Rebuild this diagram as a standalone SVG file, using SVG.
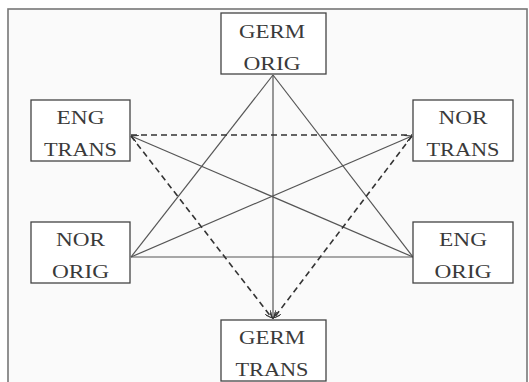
<svg xmlns="http://www.w3.org/2000/svg" width="529" height="382" viewBox="0 0 529 382">
  <style>
    .box { fill: #ffffff; stroke: #444; stroke-width: 1.3; }
    .lbl { font-size: 18px; fill: #3a3a3a; text-anchor: middle; }
    .solid { stroke: #555; stroke-width: 1.2; fill: none; }
    .dash { stroke: #333; stroke-width: 1.6; stroke-dasharray: 6 4; fill: none; }
  </style>
  <defs>
    <marker id="arr" viewBox="0 0 10 10" refX="10" refY="5" markerWidth="7" markerHeight="7" orient="auto" markerUnits="userSpaceOnUse">
      <path d="M0,0 L10,5 L0,10" fill="none" stroke="#333" stroke-width="1.6"/>
    </marker>
  </defs>

  <rect x="0" y="0" width="529" height="382" fill="#ffffff"/>
  <rect x="8" y="9" width="519" height="390" fill="#fafafa" stroke="#777" stroke-width="1.6"/>

  <g id="connectors">
    <line class="solid" x1="273" y1="75" x2="131" y2="257"/>
    <line class="solid" x1="273" y1="75" x2="413" y2="257"/>
    <line class="solid" x1="273" y1="75" x2="273" y2="319" marker-end="url(#arr)"/>
    <line class="solid" x1="131" y1="257" x2="413" y2="257"/>
    <line class="solid" x1="413" y1="257" x2="131" y2="136" marker-end="url(#arr)"/>
    <line class="solid" x1="131" y1="257" x2="412" y2="136" marker-end="url(#arr)"/>
    <line class="dash" x1="131" y1="135" x2="412" y2="135"/>
    <line class="dash" x1="131" y1="136" x2="272" y2="318" marker-end="url(#arr)"/>
    <line class="dash" x1="412" y1="136" x2="274" y2="318" marker-end="url(#arr)"/>
  </g>

  <g font-family="Liberation Serif, Times New Roman, Noto Serif, serif">
    <g id="germ-orig">
      <rect class="box" x="221" y="13" width="105" height="61"/>
      <text class="lbl" x="272" y="38" textLength="66" lengthAdjust="spacingAndGlyphs">GERM</text>
      <text class="lbl" x="272" y="70" textLength="57" lengthAdjust="spacingAndGlyphs">ORIG</text>
    </g>
    <g id="eng-trans">
      <rect class="box" x="31" y="100" width="99" height="61"/>
      <text class="lbl" x="80.5" y="124" textLength="48" lengthAdjust="spacingAndGlyphs">ENG</text>
      <text class="lbl" x="80.5" y="156" textLength="73" lengthAdjust="spacingAndGlyphs">TRANS</text>
    </g>
    <g id="nor-trans">
      <rect class="box" x="413" y="100" width="100" height="61"/>
      <text class="lbl" x="463" y="124" textLength="49" lengthAdjust="spacingAndGlyphs">NOR</text>
      <text class="lbl" x="463" y="156" textLength="73" lengthAdjust="spacingAndGlyphs">TRANS</text>
    </g>
    <g id="nor-orig">
      <rect class="box" x="31" y="222" width="99" height="61"/>
      <text class="lbl" x="80.5" y="246" textLength="49" lengthAdjust="spacingAndGlyphs">NOR</text>
      <text class="lbl" x="80.5" y="278" textLength="57" lengthAdjust="spacingAndGlyphs">ORIG</text>
    </g>
    <g id="eng-orig">
      <rect class="box" x="413" y="222" width="100" height="61"/>
      <text class="lbl" x="463" y="246" textLength="48" lengthAdjust="spacingAndGlyphs">ENG</text>
      <text class="lbl" x="463" y="278" textLength="57" lengthAdjust="spacingAndGlyphs">ORIG</text>
    </g>
    <g id="germ-trans">
      <rect class="box" x="221" y="320" width="105" height="61"/>
      <text class="lbl" x="272" y="344" textLength="66" lengthAdjust="spacingAndGlyphs">GERM</text>
      <text class="lbl" x="272" y="376" textLength="73" lengthAdjust="spacingAndGlyphs">TRANS</text>
    </g>
  </g>
</svg>
